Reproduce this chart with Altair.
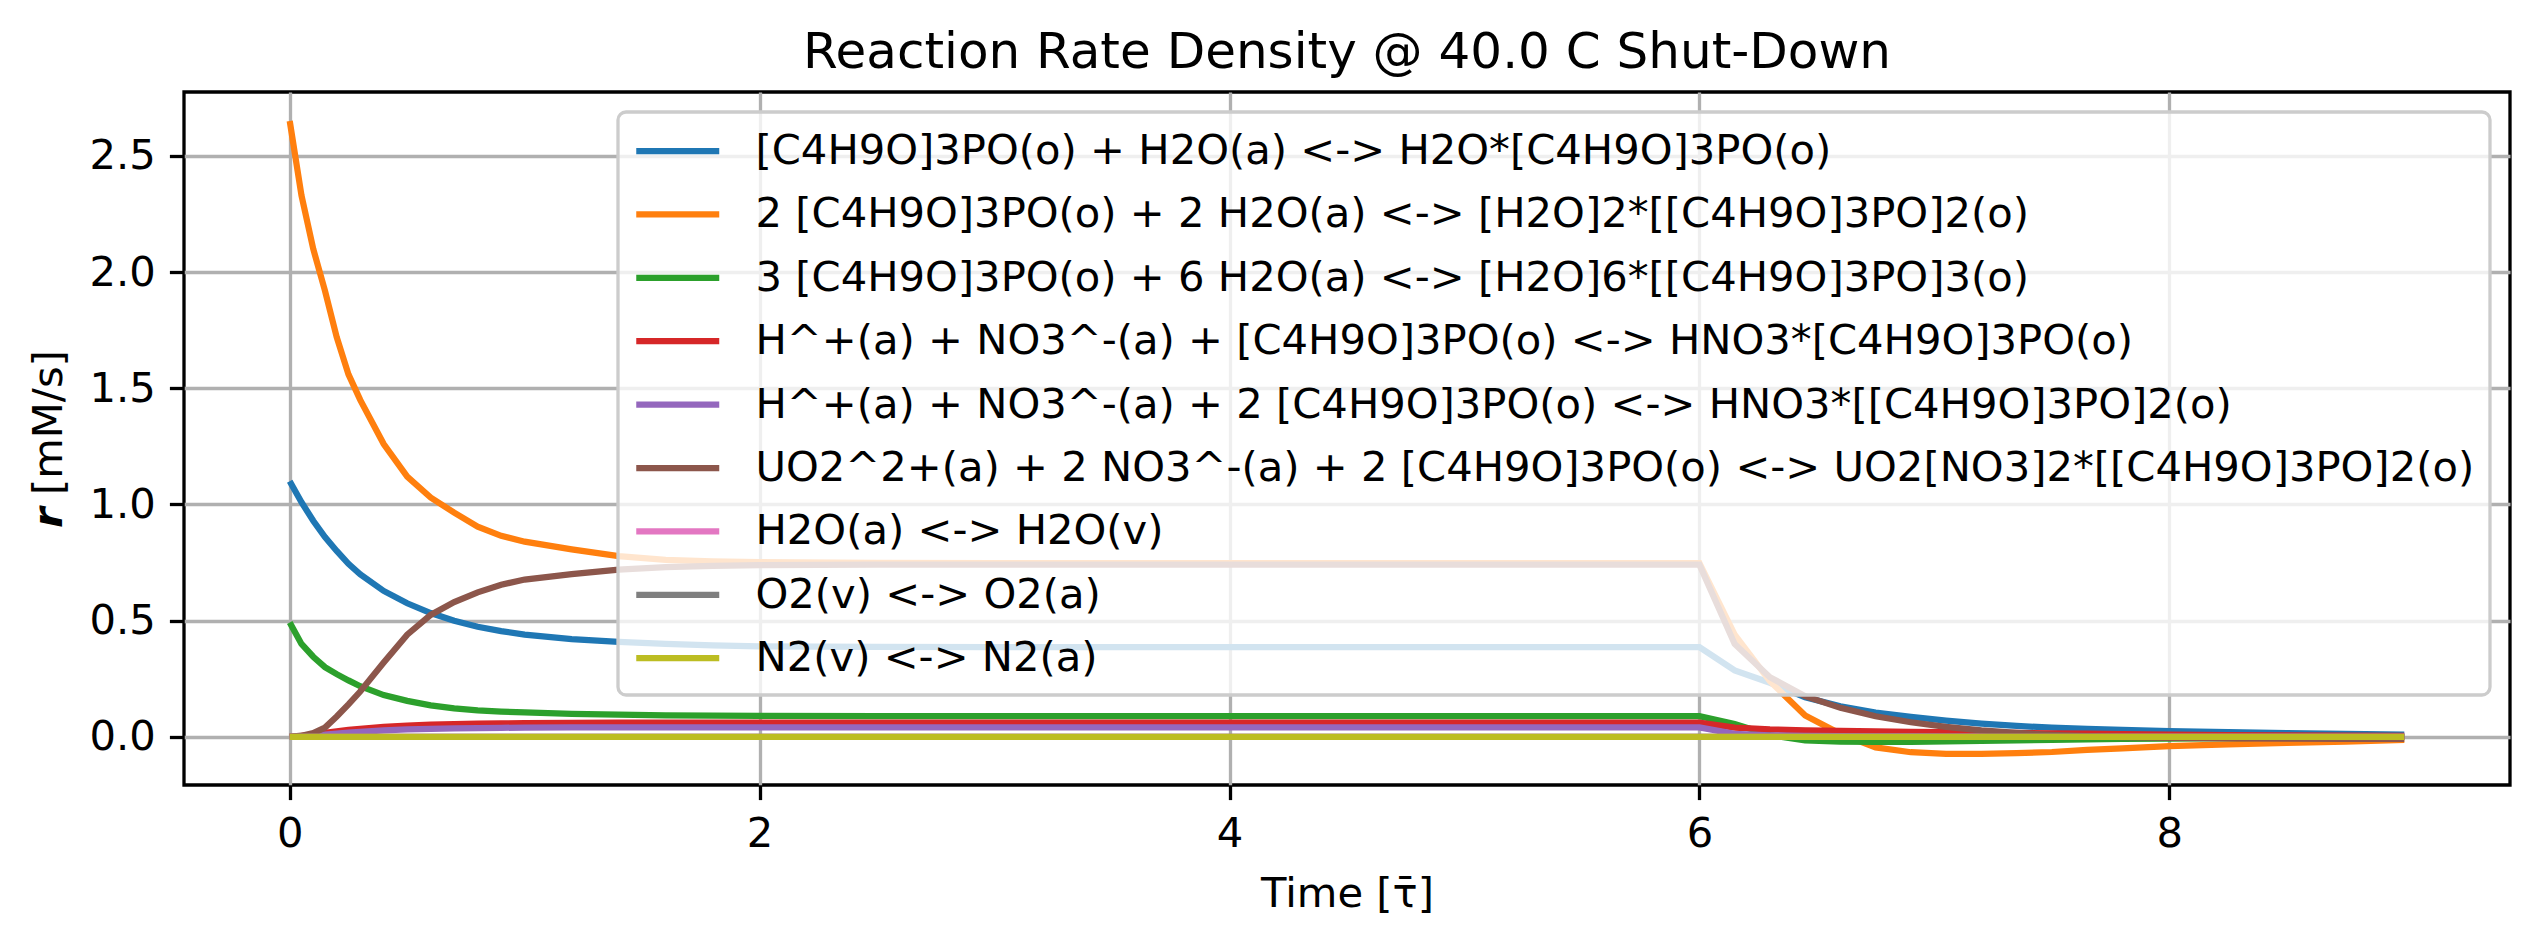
import altair as alt
import pandas as pd

# Dimensionless time grid of the solver output
time_tau = [0.0, 0.05, 0.1, 0.15, 0.2, 0.25, 0.3, 0.4, 0.5, 0.6, 0.7, 0.8, 0.9, 1.0,
            1.2, 1.4, 1.6, 1.8, 2.0, 2.5, 3.0,
            6.0, 6.15, 6.3, 6.45, 6.6, 6.75, 6.9, 7.05, 7.2, 7.35, 7.5, 7.65, 7.8,
            8.0, 8.25, 8.5, 8.75, 9.0]

reactions = [
    "[C4H9O]3PO(o) + H2O(a) <-> H2O*[C4H9O]3PO(o)",
    "2 [C4H9O]3PO(o) + 2 H2O(a) <-> [H2O]2*[[C4H9O]3PO]2(o)",
    "3 [C4H9O]3PO(o) + 6 H2O(a) <-> [H2O]6*[[C4H9O]3PO]3(o)",
    "H^+(a) + NO3^-(a) + [C4H9O]3PO(o) <-> HNO3*[C4H9O]3PO(o)",
    "H^+(a) + NO3^-(a) + 2 [C4H9O]3PO(o) <-> HNO3*[[C4H9O]3PO]2(o)",
    "UO2^2+(a) + 2 NO3^-(a) + 2 [C4H9O]3PO(o) <-> UO2[NO3]2*[[C4H9O]3PO]2(o)",
    "H2O(a) <-> H2O(v)",
    "O2(v) <-> O2(a)",
    "N2(v) <-> N2(a)",
]

colors = ["#1f77b4", "#ff7f0e", "#2ca02c", "#d62728", "#9467bd",
          "#8c564b", "#e377c2", "#7f7f7f", "#bcbd22"]

# Reaction rate densities [mM/s]
r_tbp_h2o = [1.10, 1.01, 0.93, 0.86, 0.80, 0.745, 0.70, 0.628, 0.575, 0.533, 0.50, 0.474, 0.455, 0.44,
             0.421, 0.409, 0.40, 0.394, 0.39, 0.387, 0.386,
             0.386, 0.286, 0.233, 0.17, 0.132, 0.105, 0.086, 0.07, 0.057, 0.047, 0.04, 0.034, 0.03,
             0.025, 0.02, 0.016, 0.013, 0.01]
r_tbp2_h2o2 = [2.65, 2.33, 2.10, 1.92, 1.72, 1.56, 1.45, 1.26, 1.12, 1.03, 0.965, 0.905, 0.865, 0.84,
               0.807, 0.778, 0.762, 0.755, 0.752, 0.749, 0.748,
               0.748, 0.44, 0.24, 0.092, 0.013, -0.045, -0.066, -0.073, -0.073, -0.07, -0.065, -0.056, -0.049,
               -0.04, -0.032, -0.026, -0.02, -0.013]
r_tbp3_h2o6 = [0.492, 0.40, 0.345, 0.30, 0.27, 0.243, 0.218, 0.18, 0.155, 0.136, 0.123, 0.114, 0.109, 0.105,
               0.099, 0.096, 0.093, 0.091, 0.09, 0.089, 0.089,
               0.089, 0.055, 0.008, -0.015, -0.02, -0.021, -0.021, -0.019, -0.017, -0.015, -0.013, -0.011, -0.009,
               -0.007, -0.005, -0.003, -0.002, -0.001]
r_hno3_tbp = [0.0, 0.004, 0.01, 0.017, 0.024, 0.03, 0.035, 0.043, 0.049, 0.053, 0.055, 0.057, 0.058, 0.059,
              0.06, 0.061, 0.061, 0.061, 0.061, 0.061, 0.061,
              0.061, 0.04, 0.032, 0.028, 0.026, 0.024, 0.022, 0.02, 0.018, 0.017, 0.015, 0.014, 0.012,
              0.01, 0.008, 0.007, 0.005, 0.004]
r_hno3_tbp2 = [0.0, 0.002, 0.006, 0.01, 0.014, 0.018, 0.022, 0.028, 0.032, 0.035, 0.037, 0.038, 0.039, 0.04,
               0.041, 0.041, 0.041, 0.041, 0.041, 0.041, 0.041,
               0.041, 0.013, 0.007, 0.004, 0.003, 0.002, 0.002, 0.001, 0.001, 0.001, 0.001, 0.0, 0.0,
               0.0, 0.0, 0.0, 0.0, 0.0]
r_uranyl_tbp2 = [0.0, 0.005, 0.016, 0.04, 0.088, 0.14, 0.195, 0.32, 0.44, 0.525, 0.58, 0.622, 0.655, 0.677,
                 0.70, 0.72, 0.73, 0.736, 0.739, 0.741, 0.741,
                 0.741, 0.40, 0.257, 0.175, 0.125, 0.089, 0.063, 0.043, 0.028, 0.017, 0.009, 0.003, -0.001,
                 -0.004, -0.006, -0.007, -0.008, -0.008]
r_h2o_vap = [0.0] * len(time_tau)
r_o2_abs = [0.0] * len(time_tau)
r_n2_abs = [0.0] * len(time_tau)

series = [r_tbp_h2o, r_tbp2_h2o2, r_tbp3_h2o6, r_hno3_tbp, r_hno3_tbp2,
          r_uranyl_tbp2, r_h2o_vap, r_o2_abs, r_n2_abs]

rows = []
for name, vals in zip(reactions, series):
    for t, v in zip(time_tau, vals):
        rows.append({"reaction": name, "time": t, "rate": v})
df = pd.DataFrame(rows)

FONT = "DejaVu Sans"
FS = 41.7
PLOT_W, PLOT_H = 2326, 693

lines = alt.Chart(df).mark_line(strokeWidth=6.25).encode(
    x=alt.X("time:Q",
            scale=alt.Scale(domain=[-0.45, 9.45], nice=False, zero=False),
            axis=alt.Axis(values=[0, 2, 4, 6, 8], format="d", title="Time [τ̄]",
                          titleY=121, titleBaseline="alphabetic")),
    y=alt.Y("rate:Q",
            scale=alt.Scale(domain=[-0.207, 2.775], nice=False, zero=False),
            axis=alt.Axis(values=[0, 0.5, 1.0, 1.5, 2.0, 2.5], format=".1f", title=None)),
    color=alt.Color("reaction:N",
                    scale=alt.Scale(domain=reactions, range=colors),
                    legend=alt.Legend(title=None, orient="top-right", offset=20,
                                      symbolType="M-1,0H3", symbolStrokeWidth=6.25,
                                      symbolSize=1722, labelFontSize=FS, labelFont=FONT,
                                      labelLimit=4000, labelOffset=74.5, rowPadding=17.4,
                                      padding=15, fillColor="rgba(255,255,255,0.8)",
                                      strokeColor="#cccccc", cornerRadius=8,
                                      labelColor="black")),
)

# Title drawn as a text mark centred over the plot area
title = alt.Chart(pd.DataFrame({"s": ["Reaction Rate Density @ 40.0 C Shut-Down"]})).mark_text(
    align="center", baseline="alphabetic", font=FONT, fontSize=50, color="black"
).encode(text="s:N", x=alt.value(PLOT_W / 2), y=alt.value(-24))

# y-axis title: bold italic rate symbol followed by the unit
ylab_r = alt.Chart(pd.DataFrame({"s": ["r"]})).mark_text(
    angle=270, align="left", baseline="alphabetic", font=FONT, fontSize=FS,
    fontStyle="italic", fontWeight="bold", color="black"
).encode(text="s:N", x=alt.value(-122), y=alt.value(436))

ylab_unit = alt.Chart(pd.DataFrame({"s": ["[mM/s]"]})).mark_text(
    angle=270, align="left", baseline="alphabetic", font=FONT, fontSize=FS, color="black"
).encode(text="s:N", x=alt.value(-122), y=alt.value(403))

chart = alt.layer(lines, title, ylab_r, ylab_unit).properties(
    width=PLOT_W, height=PLOT_H,
    autosize=alt.AutoSizeParams(type="none"),
    padding={"left": 184, "top": 92, "right": 29, "bottom": 160},
).configure_view(
    stroke="black", strokeWidth=3.3
).configure_axis(
    labelFont=FONT, labelFontSize=FS, titleFont=FONT, titleFontSize=FS,
    titleFontWeight="normal", labelColor="black", titleColor="black",
    tickColor="black", tickWidth=3.3, tickSize=14.6, domain=False,
    grid=True, gridColor="#b0b0b0", gridWidth=3.3, gridOpacity=1, labelPadding=14
).configure_legend(
    strokeWidth=3.3
)

chart.save("out.html", embed_options={"renderer": "svg", "actions": False})
